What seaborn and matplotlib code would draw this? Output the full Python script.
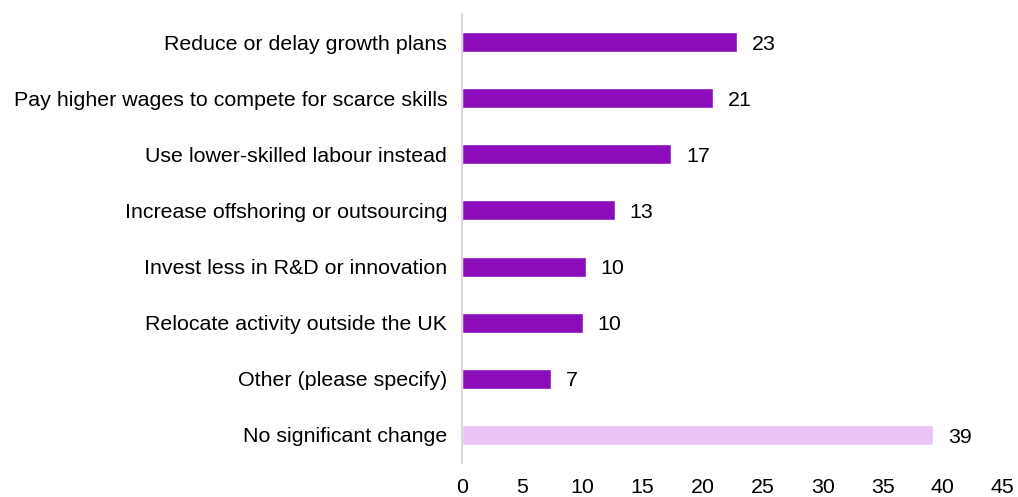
import matplotlib
matplotlib.use("Agg")
import matplotlib.pyplot as plt
import seaborn as sns
import pandas as pd

categories = [
    "Reduce or delay growth plans",
    "Pay higher wages to compete for scarce skills",
    "Use lower-skilled labour instead",
    "Increase offshoring or outsourcing",
    "Invest less in R&D or innovation",
    "Relocate activity outside the UK",
    "Other (please specify)",
    "No significant change",
]
values = [22.9, 20.9, 17.4, 12.7, 10.3, 10.0, 7.4, 39.2]
bar_colors = ["#8B0DB9"] * 7 + ["#EBC3F7"]
x_ticks = [0, 5, 10, 15, 20, 25, 30, 35, 40, 45]

sns.set_style("white")
plt.rcParams["font.family"] = ["Liberation Sans", "DejaVu Sans"]

df = pd.DataFrame({"category": categories, "value": values})

fig = plt.figure(figsize=(10.18, 4.97), dpi=100)
ax = fig.add_axes([0.4543, 0.0684, 0.5307, 0.9034])

sns.barplot(
    data=df, x="value", y="category", hue="category",
    palette=bar_colors, legend=False, width=0.357, orient="h", ax=ax,
    saturation=1,
)

fs = 15.4
for container, v in zip(ax.containers, values):
    anns = ax.bar_label(container, labels=[f"{v:.0f}"], padding=10.5,
                        fontsize=fs, color="#000000")
    for ann in anns:
        ann.xyann = (10.5, -1.5)

ax.set_xlim(0, 45)
ax.set_ylim(7.5, -0.5)
ax.set_xticks(x_ticks)
ax.set_xticklabels([str(t) for t in x_ticks])
ax.set_xlabel("")
ax.set_ylabel("")
ax.tick_params(axis="x", length=0, pad=10.5, labelsize=fs, colors="#000000")
ax.tick_params(axis="y", length=0, pad=11, labelsize=fs, colors="#000000")

for side in ["top", "right", "bottom"]:
    ax.spines[side].set_visible(False)
ax.spines["left"].set_color("#D9D9D9")
ax.spines["left"].set_linewidth(1.5)

fig.savefig("out.png", dpi=100)
